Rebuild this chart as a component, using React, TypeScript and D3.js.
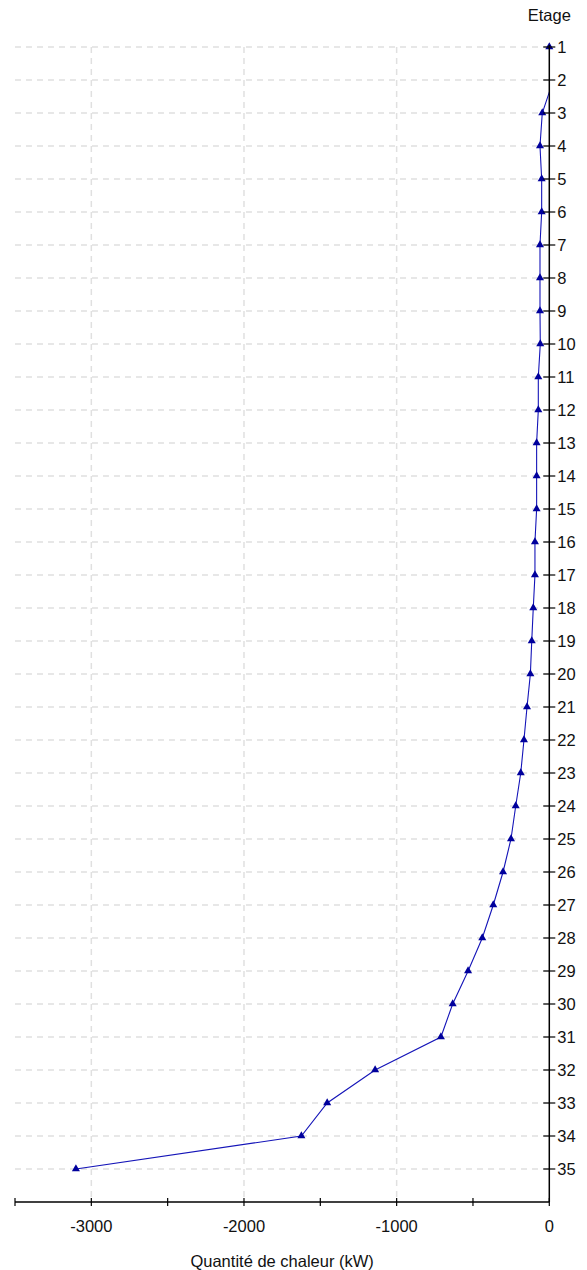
import * as d3 from 'd3'

// floors 1..35 and heat quantity (kW)
const floors = d3.range(1, 36)
const heat = [
  0, 27, -46, -61, -50, -50, -61, -61, -61, -59,
  -72, -72, -83, -83, -83, -94, -94, -105, -115, -124,
  -146, -166, -187, -220, -251, -303, -367, -439, -532, -633,
  -710, -1141, -1455, -1624, -3101,
]
const xTicks = d3.range(-3500, 1, 500)
const xLabelTicks = [-3000, -2000, -1000, 0]
const xGridTicks = [-3000, -2000, -1000]
const xTitle = 'Quantité de chaleur (kW)'
const yTitle = 'Etage'

const W = 587, H = 1270
const font = '"Liberation Sans", Arial, sans-serif'
const fs = 16.5

export default function App() {
  const x = d3.scaleLinear().domain([-3500, 0]).range([15, 549.3])
  const y = d3.scaleLinear().domain([1, 36]).range([47, 1202])
  const pts = floors.map((f, i) => ({ f, v: heat[i] }))
  const line = d3.line<{ f: number; v: number }>().x(d => x(d.v)).y(d => y(d.f))
  const tri = d3.symbol().type(d3.symbolTriangle).size(28)()
  const [x0, x1] = x.range()
  const [yTop, yBot] = y.range()

  return (
    <svg width={W} height={H} style={{ position: 'absolute', left: 0, top: 0, display: 'block' }}
      fontFamily={font} fontSize={fs}>
      <defs>
        <clipPath id="plot">
          <rect x={x0} y={0} width={x1 - x0} height={yBot} />
        </clipPath>
      </defs>
      {floors.map(f => (
        <line key={`hg${f}`} x1={x0} x2={x1} y1={y(f)} y2={y(f)}
          stroke="#e0e0e0" strokeWidth={1.5} strokeDasharray="6,5" />
      ))}
      {xGridTicks.map(t => (
        <line key={`vg${t}`} x1={x(t)} x2={x(t)} y1={yTop} y2={yBot}
          stroke="#e0e0e0" strokeWidth={1.5} strokeDasharray="6,5" />
      ))}
      <path d={line(pts) ?? ''} fill="none" stroke="#1414b8" strokeWidth={1.1} clipPath="url(#plot)" />
      {pts.filter(p => p.v <= 0).map(p => (
        <path key={`m${p.f}`} d={tri ?? ''} transform={`translate(${x(p.v)},${y(p.f)})`} fill="#00009c" />
      ))}
      {/* axes */}
      <line x1={x0} x2={x1} y1={yBot} y2={yBot} stroke="#000" strokeWidth={1.5} />
      <line x1={x1} x2={x1} y1={yTop - 2} y2={yBot} stroke="#000" strokeWidth={1.5} />
      {xTicks.map(t => (
        <line key={`xt${t}`} x1={x(t)} x2={x(t)} y1={yBot - 4} y2={yBot + 4} stroke="#000" strokeWidth={1.2} />
      ))}
      {xLabelTicks.map(t => (
        <text key={`xl${t}`} x={x(t)} y={yBot + 30} textAnchor="middle" fill="#111">{t}</text>
      ))}
      {floors.map(f => (
        <g key={`yt${f}`}>
          <line x1={x1 - 6} x2={x1 + 6} y1={y(f)} y2={y(f)} stroke="#000" strokeWidth={1.2} />
          <text x={x1 + 8} y={y(f) + 6} fill="#111">{f}</text>
        </g>
      ))}
      <text x={x1} y={21} textAnchor="middle" fill="#111">{yTitle}</text>
      <text x={(x0 + x1) / 2} y={1267} textAnchor="middle" fill="#111">{xTitle}</text>
    </svg>
  )
}
